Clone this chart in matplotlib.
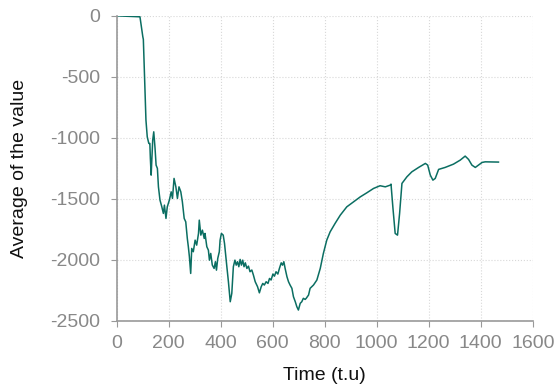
import matplotlib
matplotlib.use("Agg")
import matplotlib.pyplot as plt

plt.rcParams['font.family'] = ['Liberation Sans', 'DejaVu Sans']
plt.rcParams['axes.unicode_minus'] = False

time = [0, 90, 101, 103, 113, 118, 124, 128, 130, 133, 139, 143, 148, 152, 157, 161,
        167, 174, 180, 184, 190, 195, 203, 210, 215, 221, 228, 234, 240, 247, 253,
        260, 266, 272, 276, 280, 285, 289, 295, 302, 308, 315, 318, 324, 330, 337,
        340, 347, 353, 357, 362, 368, 375, 380, 384, 389, 395, 398, 403, 410, 415,
        420, 424, 430, 437, 443, 449, 455, 460, 465, 470, 475, 480, 485, 490, 495,
        501, 507, 513, 520, 526, 533, 542, 549, 556, 562, 568, 575, 582, 588, 594,
        601, 607, 613, 620, 626, 633, 638, 643, 648, 655, 661, 667, 674, 680, 687,
        693, 699, 706, 712, 718, 725, 729, 738, 744, 757, 770, 783, 795, 808,
        821, 840, 860, 885, 911, 937, 962, 988, 1013, 1033, 1052, 1055, 1062, 1071,
        1080, 1088, 1097, 1116, 1135, 1161, 1187, 1196, 1206, 1216, 1225, 1238,
        1263, 1295, 1321, 1340, 1353, 1366, 1379, 1391, 1405, 1417, 1468]

value = [0, -8, -172, -193, -855, -992, -1046, -1046, -1169, -1306, -1019, -951,
         -1087, -1224, -1251, -1402, -1511, -1566, -1620, -1552, -1661, -1566,
         -1511, -1443, -1497, -1333, -1402, -1497, -1402, -1443, -1525, -1661,
         -1689, -1825, -1894, -1975, -2112, -1907, -1934, -1839, -1880, -1784,
         -1675, -1798, -1757, -1825, -1784, -1893, -1921, -2003, -1948, -2043,
         -2071, -2016, -2085, -1989, -1934, -1839, -1784, -1798, -1866, -1975,
         -2057, -2180, -2344, -2275, -2057, -2003, -2044, -2016, -2057, -1997,
         -2044, -2003, -2057, -2025, -2071, -2052, -2098, -2084, -2125, -2180,
         -2221, -2271, -2221, -2194, -2207, -2180, -2194, -2153, -2166, -2117,
         -2134, -2098, -2117, -2071, -2025, -2044, -2016, -2071, -2139, -2180,
         -2207, -2234, -2303, -2344, -2385, -2412, -2357, -2344, -2316, -2325,
         -2316, -2289, -2234, -2207, -2166, -2071, -1948, -1839, -1771, -1702,
         -1634, -1566, -1525, -1484, -1451, -1415, -1393, -1402, -1388, -1380,
         -1566, -1784, -1798, -1620, -1374, -1320, -1279, -1243, -1210, -1224,
         -1306, -1347, -1333, -1259, -1243, -1216, -1183, -1150, -1177, -1224,
         -1243, -1224, -1202, -1197, -1199]

xticks = [0, 200, 400, 600, 800, 1000, 1200, 1400, 1600]
yticks = [0, -500, -1000, -1500, -2000, -2500]

fig = plt.figure(figsize=(5.55, 3.86), dpi=100)
ax = fig.add_axes([0.21, 0.169, 0.75, 0.79])
ax.plot(time, value, color='#0b6e62', linewidth=1.1)

ax.set_xlim(0, 1600)
ax.set_ylim(-2500, 0)
ax.set_xticks(xticks)
ax.set_yticks(yticks)
ax.grid(True, linestyle=':', color='#d8d8d8', linewidth=0.8)
for s in ['top', 'right']:
    ax.spines[s].set_visible(False)
for s in ['left', 'bottom']:
    ax.spines[s].set_color('#999999')
    ax.spines[s].set_linewidth(1.2)
ax.tick_params(axis='both', colors='#999999', labelcolor='#888888',
               labelsize=14, length=4, direction='out')
ax.tick_params(axis='y', pad=8)
ax.tick_params(axis='x', pad=6)
ax.set_xlabel('Time (t.u)', fontsize=14, color='#111111', labelpad=11)
ax.set_ylabel('Average of the value', fontsize=14, color='#111111', labelpad=16)

fig.savefig('out.png', dpi=100)
